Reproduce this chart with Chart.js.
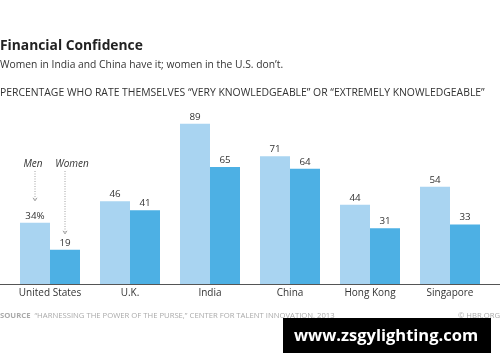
<!DOCTYPE html>
<html><head><meta charset="utf-8">
<script src="https://cdn.jsdelivr.net/npm/chart.js@4"></script>
<style>html,body{margin:0;padding:0;background:#fff;}#wrap{width:500px;height:362px;position:relative;}</style>
</head><body><div id="wrap"><canvas id="c" width="500" height="362"></canvas></div>
<script>
const categories = ["United States", "U.K.", "India", "China", "Hong Kong", "Singapore"];
const men = [34, 46, 89, 71, 44, 54];
const women = [19, 41, 65, 64, 31, 33];
const menLabels = ["34%", "46", "89", "71", "44", "54"];
const womenLabels = ["19", "41", "65", "64", "31", "33"];
const FONT = "'Open Sans', sans-serif";

const textPlugin = {
  id: 'texts',
  afterDraw(chart) {
    const ctx = chart.ctx;
    ctx.save();
    ctx.textBaseline = 'middle';
    ctx.textAlign = 'left';
    ctx.fillStyle = '#222';
    ctx.font = "bold 13.8px " + FONT;
    ctx.fillText("Financial Confidence", 0, 46);
    ctx.fillStyle = '#333';
    ctx.font = "10.3px " + FONT;
    ctx.fillText("Women in India and China have it; women in the U.S. don\u2019t.", 0, 65);
    ctx.fillStyle = '#333';
    ctx.font = "10.4px " + FONT;
    ctx.fillText("PERCENTAGE WHO RATE THEMSELVES \u201CVERY KNOWLEDGEABLE\u201D OR \u201CEXTREMELY KNOWLEDGEABLE\u201D", 0, 93);
    // baseline
    const yb = chart.scales.y.getPixelForValue(0);
    ctx.strokeStyle = '#555';
    ctx.lineWidth = 1;
    ctx.beginPath(); ctx.moveTo(0, Math.round(yb) + 0.5); ctx.lineTo(500, Math.round(yb) + 0.5); ctx.stroke();
    // value labels
    ctx.textAlign = 'center';
    ctx.fillStyle = '#333';
    ctx.font = "9.8px " + FONT;
    const labs = [menLabels, womenLabels];
    chart.data.datasets.forEach((ds, di) => {
      chart.getDatasetMeta(di).data.forEach((bar, i) => {
        ctx.fillText(labs[di][i], bar.x, bar.y - 7);
      });
    });
    // annotations
    const m0 = chart.getDatasetMeta(0).data[0];
    const w0 = chart.getDatasetMeta(1).data[0];
    ctx.font = "italic 10px " + FONT;
    ctx.fillStyle = '#333';
    ctx.fillText("Men", m0.x - 2, 164);
    ctx.fillText("Women", w0.x + 7, 164);
    ctx.strokeStyle = '#888';
    ctx.lineWidth = 0.8;
    ctx.setLineDash([1, 1.5]);
    const arrows = [[m0.x, 171, m0.y - 22], [w0.x, 171, w0.y - 16]];
    arrows.forEach(a => {
      ctx.beginPath(); ctx.moveTo(a[0], a[1]); ctx.lineTo(a[0], a[2]); ctx.stroke();
    });
    ctx.setLineDash([]);
    arrows.forEach(a => {
      ctx.beginPath(); ctx.moveTo(a[0] - 2, a[2] - 3); ctx.lineTo(a[0], a[2]); ctx.lineTo(a[0] + 2, a[2] - 3); ctx.stroke();
    });
    // source
    ctx.textAlign = 'left';
    ctx.font = "bold 7.7px " + FONT;
    ctx.fillStyle = '#aaa';
    ctx.fillText("SOURCE", 0, 316);
    const sw = ctx.measureText("SOURCE ").width;
    ctx.font = "7.7px " + FONT;
    ctx.fillText("\u201CHARNESSING THE POWER OF THE PURSE,\u201D CENTER FOR TALENT INNOVATION, 2013", sw + 2, 316);
    ctx.textAlign = 'right';
    ctx.fillText("\u00A9 HBR.ORG", 500, 316);
    // watermark
    ctx.fillStyle = '#000';
    ctx.fillRect(283, 318, 208, 35);
    ctx.fillStyle = '#fff';
    ctx.textAlign = 'center';
    ctx.font = "bold 16.5px " + FONT;
    ctx.fillText("www.zsgylighting.com", 386, 336);
    ctx.restore();
  }
};

new Chart(document.getElementById('c'), {
  type: 'bar',
  data: {
    labels: categories,
    datasets: [
      { label: 'Men', data: men, backgroundColor: '#a9d4f1', barPercentage: 1, categoryPercentage: 0.75 },
      { label: 'Women', data: women, backgroundColor: '#4db0e4', barPercentage: 1, categoryPercentage: 0.75 }
    ]
  },
  options: {
    responsive: false,
    animation: false,
    devicePixelRatio: 1,
    layout: { padding: { top: 104, left: 10, right: 10, bottom: 0 } },
    plugins: { legend: { display: false }, tooltip: { enabled: false }, title: { display: false } },
    scales: {
      x: {
        grid: { display: false, drawTicks: false },
        border: { display: false },
        ticks: { color: '#333', font: { family: FONT, size: 10 }, padding: 3 },
        afterFit(s) { s.height = 78; }
      },
      y: { display: false, min: 0, max: 100 }
    }
  },
  plugins: [textPlugin]
});
</script></body></html>
